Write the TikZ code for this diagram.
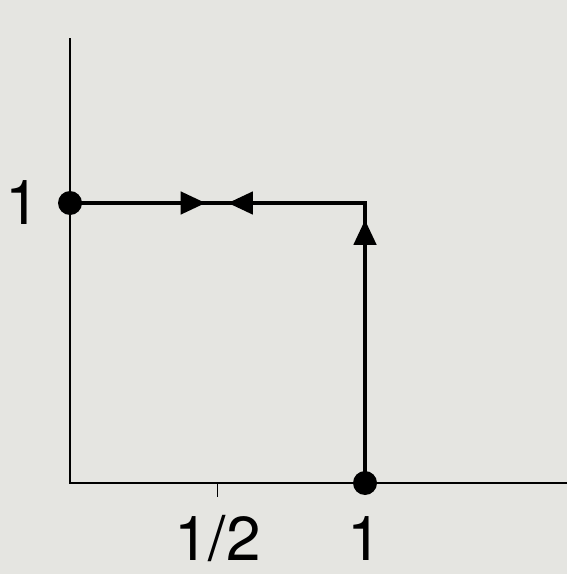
\documentclass[tikz,border=0pt]{standalone}
\usepackage{fontspec}
\setmainfont{TeX Gyre Heros}
\usetikzlibrary{arrows.meta,decorations.markings}
\definecolor{paper}{RGB}{229,229,225}
\begin{document}
\begin{tikzpicture}[x=147.5pt,y=140pt,
  dot/.style={circle,fill=black,inner sep=0pt,minimum size=12pt},
  lbl/.style={font=\fontsize{31}{36}\selectfont,inner sep=0.5pt},
  tri/.tip={Triangle[length=12.5pt,width=11pt]}]
% Background
\fill[paper] (-0.2373,-0.325) rectangle (1.6847,1.725);
\useasboundingbox (-0.2373,-0.325) rectangle (1.6847,1.725);

% Axes
\coordinate (O) at (0,0);
\coordinate (xend) at (1.6847,0);
\coordinate (yend) at (0,1.589);
\draw[line width=1pt] (yend) -- (O) -- (xend);

% Tick at 1/2
\coordinate (half) at (0.5,0);
\coordinate (halfbot) at (0.5,-0.05);
\draw[line width=0.8pt] (half) -- (halfbot);

% Labels
\node[lbl] (yone) at (-0.159,1) {1};
\node[lbl] (xhalf) at (0.5,-0.2) {1/2};
\node[lbl] (xone) at (1,-0.2) {1};

% Path along the top and the right side
\coordinate (corner) at (1,1);
\node[dot] (start) at (0,1) {};
\node[dot] (stop) at (1,0) {};
\draw[line width=2.2pt, line cap=rect, postaction=decorate,
  decoration={markings,
    mark=at position 0.46 with {\arrow{tri}},
    mark=at position 0.535 with {\arrowreversed{tri}}}]
  (start.center) -- (corner);
\draw[line width=2.2pt, line cap=rect, postaction=decorate,
  decoration={markings, mark=at position 0.94 with {\arrow{tri}}}]
  (stop.center) -- (corner);
\end{tikzpicture}
\end{document}
